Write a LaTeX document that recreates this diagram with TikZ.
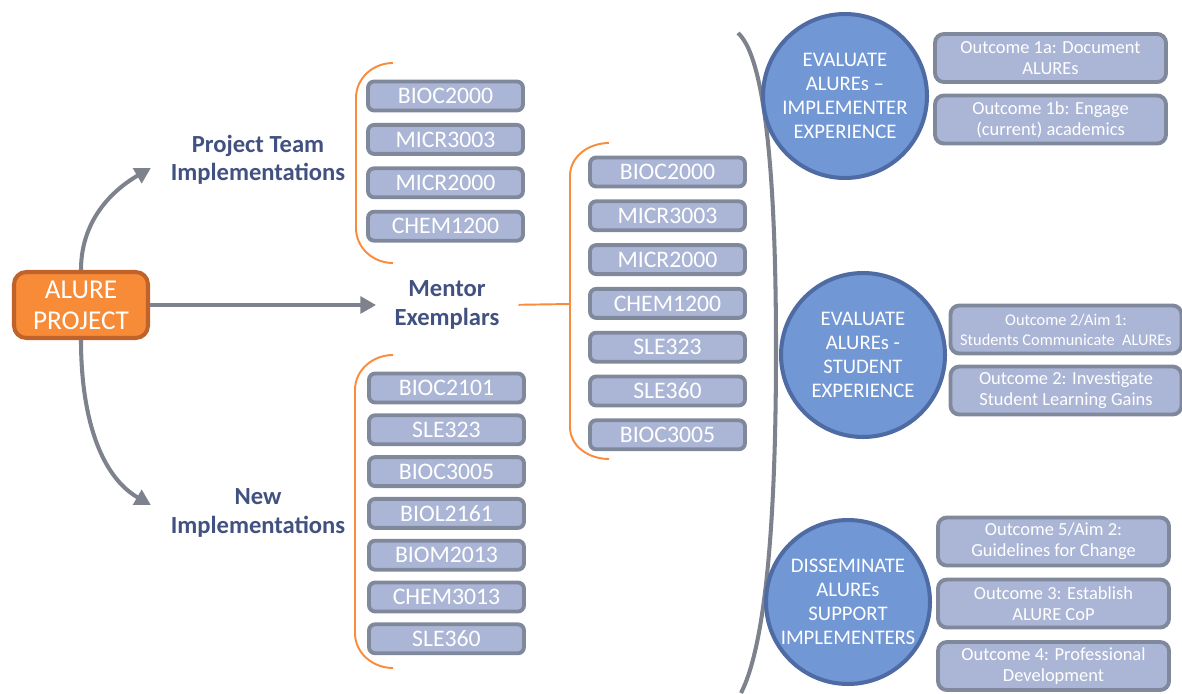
\documentclass[tikz,border=0pt]{standalone}
\usepackage{fontspec}
\setmainfont{Carlito}
\usetikzlibrary{arrows.meta}
\definecolor{aluorange}{HTML}{F88B38}
\definecolor{aluedge}{HTML}{C0632A}
\definecolor{flowgray}{HTML}{7D828C}
\definecolor{labelblue}{HTML}{415180}
\definecolor{boxfill}{HTML}{ABB6D6}
\definecolor{boxedge}{HTML}{80889C}
\definecolor{aimfill}{HTML}{7297D5}
\definecolor{aimedge}{HTML}{4F6BA3}
\definecolor{bracecol}{HTML}{F98C3C}
\tikzset{
  project/.style={draw=aluedge,fill=aluorange,line width=2.3pt,rounded corners=7pt,
    minimum width=2.68cm,minimum height=1.32cm,align=center,text=white,
    font=\fontsize{15.5}{17.6}\selectfont},
  group label/.style={text=labelblue,align=center,
    font=\fontsize{14}{16}\selectfont\bfseries},
  course/.style={draw=boxedge,fill=boxfill,line width=2.2pt,rounded corners=3.5pt,
    minimum width=3.1cm,minimum height=0.58cm,inner sep=0pt,text=white,
    font=\fontsize{13.5}{15}\selectfont},
  outcome/.style={draw=boxedge,fill=boxfill,line width=2.2pt,rounded corners=5pt,
    minimum width=4.62cm,minimum height=0.96cm,inner sep=0pt,align=center,text=white,
    font=\fontsize{10.5}{12}\selectfont},
  aim/.style={circle,draw=aimedge,fill=aimfill,line width=2.3pt,minimum size=3.28cm,
    inner sep=0pt,align=center,text=white,font=\fontsize{11.8}{13.6}\selectfont},
  flow/.style={draw=flowgray,line width=2.3pt,-{Triangle[length=9pt,width=9.5pt]}},
  brace/.style={draw=bracecol,line width=1.1pt},
}

\begin{document}
\begin{tikzpicture}[x=0.02cm,y=-0.02cm]
\useasboundingbox (0,0) rectangle (1182,693);

% project and the three branches
\node[project] (proj) at (81,305) {ALURE\\PROJECT};
\node[group label] (team) at (258,160) {Project Team\\Implementations};
\node[group label] (mentor) at (447,305) {Mentor\\Exemplars};
\node[group label] (newimp) at (258,513) {New\\Implementations};

\draw[flow,shorten >=9pt] (proj.north) to[out=90,in=210] (team.west);
\draw[flow,shorten >=9pt] (proj.south) to[out=-90,in=150] (newimp.west);
\draw[flow,shorten >=7pt] (proj.east) -- (mentor.west);

% orange brackets
\coordinate (mbr) at (570,304);
\draw[brace] (393,63) to[out=180,in=90] (356,98) -- (356,228) to[out=-90,in=180] (393,263);
\draw[brace] (609,143) to[out=180,in=90] (570,176) -- (mbr) -- (570,427) to[out=-90,in=180] (609,459);
\draw[brace,shorten <=7.4pt] (mentor.east) -- (mbr);
\draw[brace] (393,355) to[out=180,in=90] (355,390) -- (355,633) to[out=-90,in=180] (393,668);

% course units
\foreach \code [count=\i] in {BIOC2000,MICR3003,MICR2000,CHEM1200}
  \node[course] (t\i) at (445.5,{52.6+43.4*\i}) {\code};
\foreach \code [count=\i] in {BIOC2000,MICR3003,MICR2000,CHEM1200,SLE323,SLE360,BIOC3005}
  \node[course] (m\i) at (667.5,{128.2+43.8*\i}) {\code};
\foreach \code [count=\i] in {BIOC2101,SLE323,BIOC3005,BIOL2161,BIOM2013,CHEM3013,SLE360}
  \node[course] (n\i) at (446.5,{346.2+41.8*\i}) {\code};

% big grey bracket
\draw[flowgray,line width=2.3pt] (738,33) .. controls (768,60) and (776,200) .. (776,350)
  .. controls (776,500) and (768,640) .. (741,693);

% aims
\node[aim] (c1) at (845,96) {EVALUATE\\ALUREs –\\IMPLEMENTER\\EXPERIENCE};
\node[aim] (c2) at (863,355) {EVALUATE\\ALUREs -\\STUDENT\\EXPERIENCE};
\node[aim] (c3) at (848,602) {DISSEMINATE\\ALUREs\\SUPPORT\\IMPLEMENTERS};

% outcomes
\node[outcome] (o1a) at (1050.5,58) {Outcome 1a: Document\\ALUREs};
\node[outcome] (o1b) at (1050.5,119.5) {Outcome 1b: Engage\\(current) academics};
\node[outcome,font=\fontsize{9.3}{11.3}\selectfont] (o2a) at (1066,329.5)
  {Outcome 2/Aim 1:\\Students Communicate\ \ ALUREs};
\node[outcome] (o2) at (1066,390.5) {Outcome 2: Investigate\\Student Learning Gains};
\node[outcome] (o5) at (1053.5,541.5) {Outcome 5/Aim 2:\\Guidelines for Change};
\node[outcome] (o3) at (1053.5,603.5) {Outcome 3: Establish\\ALURE CoP};
\node[outcome] (o4) at (1053.5,666) {Outcome 4: Professional\\Development};

\end{tikzpicture}
\end{document}
